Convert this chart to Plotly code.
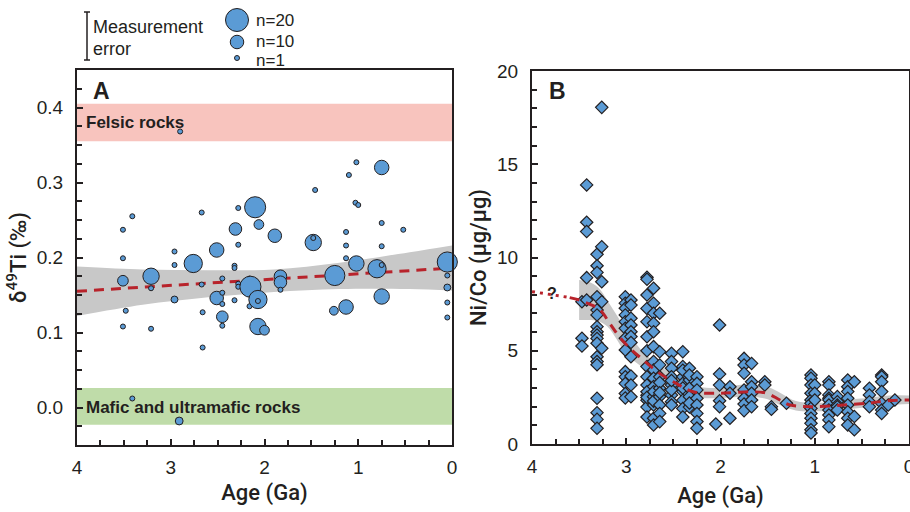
import plotly.graph_objects as go

# ---------------- Panel A data ----------------
a_age = [3.41, 3.51, 3.51, 3.51, 3.48, 3.51, 3.21, 3.21, 3.21, 2.96, 2.96, 2.96,
         2.76, 2.67, 2.67, 2.66, 2.66, 2.51, 2.51, 2.45, 2.45, 2.45, 2.45, 2.45,
         2.31, 2.28, 2.28, 2.32, 2.32, 2.32, 2.28, 2.28, 2.10, 2.06, 2.16, 2.15,
         2.16, 2.07, 2.07, 2.07, 2.00, 2.90, 3.41, 2.91,
         1.89, 1.48, 1.48, 1.46, 1.02, 1.10, 0.75, 1.03, 1.00, 0.75, 0.52, 1.13,
         1.13, 0.75, 1.13, 1.02, 0.80, 0.75, 1.83, 1.83, 1.83, 1.25, 1.26, 1.13,
         0.75, 0.05, 0.05, 0.05, 0.05, 0.05]
a_d49ti = [0.255, 0.237, 0.199, 0.169, 0.129, 0.108, 0.175, 0.159, 0.105, 0.208, 0.190, 0.144,
           0.192, 0.260, 0.164, 0.127, 0.080, 0.210, 0.146, 0.172, 0.153, 0.138, 0.121, 0.109,
           0.238, 0.266, 0.217, 0.189, 0.186, 0.143, 0.165, 0.161, 0.267, 0.244, 0.172, 0.161,
           0.135, 0.144, 0.142, 0.108, 0.103, 0.368, 0.012, -0.018,
           0.229, 0.220, 0.226, 0.290, 0.327, 0.310, 0.320, 0.273, 0.270, 0.246, 0.237, 0.234,
           0.216, 0.215, 0.199, 0.192, 0.185, 0.190, 0.175, 0.167, 0.157, 0.176, 0.129, 0.134,
           0.148, 0.194, 0.176, 0.160, 0.140, 0.120]
a_n = [1, 1, 1, 7, 1, 1, 13, 1, 1, 1, 1, 3,
       15, 1, 1, 1, 1, 11, 10, 1, 1, 1, 8, 1,
       9, 1, 1, 1, 1, 1, 1, 1, 18, 6, 1, 18,
       1, 15, 1, 13, 6, 1, 1, 4,
       10, 13, 1, 1, 1, 1, 11, 1, 1, 1, 1, 1,
       1, 1, 1, 12, 15, 1, 9, 9, 1, 17, 5, 11,
       12, 17, 1, 3, 1, 1]

a_fit_age = [4.0, 0.0]
a_fit_val = [0.155, 0.186]
a_band_age = [4.0, 3.3, 2.6, 1.9, 1.2, 0.45, 0.0]
a_band_hi = [0.188, 0.184, 0.183, 0.184, 0.193, 0.207, 0.216]
a_band_lo = [0.122, 0.137, 0.147, 0.154, 0.158, 0.158, 0.156]

felsic_range = [0.355, 0.405]
mafic_range = [-0.023, 0.026]

legend_n = [20, 10, 1]

# ---------------- Panel B data ----------------
b_age = ([3.47] * 3 + [3.42] * 5 + [3.31] * 18 + [3.26] * 5 + [3.01] * 13 + [2.95] * 11 +
         [2.78] * 16 + [2.71] * 16 + [2.645] * 11 + [2.52] * 10 + [2.40] * 10 + [2.33] * 7 +
         [2.25] * 8 + [2.01] * 5 + [2.05] + [1.90] * 3 + [1.75] * 7 + [1.67] * 6 + [1.53] * 2 +
         [1.46] * 2 + [1.30] + [1.04] * 12 + [1.00] * 3 + [0.85] * 10 + [0.76] * 5 +
         [0.65] * 8 + [0.58] * 3 + [0.42] * 4 + [0.29] * 7 + [0.22] + [0.15])
b_nico = [7.63, 5.67, 5.25,
          13.89, 11.89, 11.39, 8.92, 7.72,
          10.17, 9.56, 9.2, 7.9, 7.18, 6.92, 6.29, 6.02, 5.84, 5.66, 5.4, 4.68, 4.42, 4.25, 2.45, 1.68, 1.32, 0.84,
          18.05, 10.58, 8.7, 7.63, 5.13,
          7.9, 7.55, 7.28, 6.92, 6.56, 6.2, 5.67, 5.04, 3.88, 3.6, 3.24, 2.71, 2.47,
          7.72, 7.45, 6.74, 6.38, 6.02, 5.76, 5.44, 4.68, 3.64, 3.16, 2.53,
          8.94, 8.83, 7.99, 7.27, 6.56, 5.75, 5.0, 4.15, 3.6, 3.16, 2.62, 2.35, 1.98, 1.45, 2.8, 2.5,
          8.35, 7.55, 7.01, 6.47, 6.02, 5.22, 4.42, 3.97, 3.52, 3.08, 2.54, 2.09, 1.38, 1.02, 2.8, 2.3,
          7.01, 4.95, 4.24, 3.6, 2.99, 2.54, 2.09, 1.64, 1.2, 3.3, 2.75,
          4.86, 4.42, 4.06, 3.6, 3.16, 2.62, 2.27, 2.09, 2.9, 3.4,
          4.95, 4.15, 3.6, 3.25, 2.81, 2.35, 1.9, 1.45, 3.95, 3.0,
          4.06, 3.43, 2.99, 2.54, 1.98, 3.7, 2.2,
          3.6, 3.25, 2.9, 2.45, 2.09, 1.64, 1.2, 0.85,
          6.38, 3.75, 3.16, 2.32, 2.0,
          1.07,
          3.07, 2.72, 1.38,
          4.59, 4.23, 3.79, 2.9, 2.45, 2.14, 1.79,
          4.32, 3.34, 3.07, 2.72, 2.36, 2.0,
          3.34, 3.16,
          2.0, 1.86,
          2.18,
          3.7, 3.52, 3.16, 2.72, 2.36, 2.18, 1.91, 1.64, 1.38, 1.11, 0.76, 0.59,
          3.16, 2.72, 2.36,
          3.34, 3.16, 2.63, 2.45, 2.36, 2.09, 1.82, 1.55, 1.29, 0.93,
          2.54, 2.27, 2.09, 2.0, 1.82,
          3.43, 3.07, 2.81, 2.45, 2.09, 1.73, 1.38, 1.02,
          3.34, 1.47, 0.76,
          2.99, 2.63, 2.27, 2.0,
          3.7, 3.6, 3.34, 2.81, 2.18, 1.82, 1.64,
          2.09,
          2.36]

b_fit_age = [3.6, 3.5, 3.39, 3.28, 3.175, 3.076, 2.945, 2.83, 2.65, 2.47, 2.29, 2.01,
             1.69, 1.51, 1.37, 1.26, 1.01, 0.69, 0.41, 0.23, 0.0]
b_fit_val = [7.85, 7.72, 7.5, 7.2, 6.47, 5.77, 5.05, 4.55, 3.8, 3.25, 2.8, 2.72,
             2.8, 2.72, 2.36, 2.09, 2.0, 2.09, 2.2, 2.32, 2.36]
b_extrap_age = [4.0, 3.6]
b_extrap_val = [8.17, 7.85]
b_band_age = [3.5, 3.4, 3.3, 3.2, 3.1, 3.0, 2.85, 2.7, 2.5, 2.3, 2.1, 1.9, 1.7, 1.5,
              1.35, 1.2, 1.0, 0.7, 0.4, 0.2, 0.0]
b_band_hi = [8.8, 8.7, 8.4, 7.7, 6.9, 6.1, 5.1, 4.4, 3.7, 3.15, 3.0, 3.1, 3.2, 3.05,
             2.7, 2.3, 2.2, 2.35, 2.5, 2.6, 2.6]
b_band_lo = [6.65, 6.65, 6.6, 6.3, 5.6, 4.8, 4.2, 3.6, 3.0, 2.55, 2.45, 2.5, 2.55, 2.4,
             2.05, 1.8, 1.75, 1.85, 2.0, 2.1, 2.15]

# ---------------- styles ----------------
W, H = 910, 512
INK = "#231F20"
BLUE = "#5B9BD5"
RED = "#B8232B"
GRAY = "#C8C8C8"
FONT = "Liberation Sans"
TFONT = "Roboto"


def bubble_size(n):
    return 5 + 18 * (n - 1) / 19


def px_x(p):
    return p / W


def px_y(p):
    return 1 - p / H


fig = go.Figure()

# Panel A
fig.add_trace(go.Scatter(x=a_band_age, y=a_band_hi, mode="lines", line=dict(width=0, shape="spline"),
                         hoverinfo="skip", xaxis="x", yaxis="y"))
fig.add_trace(go.Scatter(x=a_band_age, y=a_band_lo, mode="lines", line=dict(width=0, shape="spline"),
                         fill="tonexty", fillcolor=GRAY, hoverinfo="skip", xaxis="x", yaxis="y"))
fig.add_trace(go.Scatter(x=a_fit_age, y=a_fit_val, mode="lines",
                         line=dict(color=RED, width=3, dash="10px,7px"), xaxis="x", yaxis="y"))
fig.add_trace(go.Scatter(x=a_age, y=a_d49ti, mode="markers",
                         marker=dict(size=[bubble_size(n) for n in a_n], color=BLUE, opacity=1,
                                     line=dict(color=INK, width=1)),
                         xaxis="x", yaxis="y", cliponaxis=False))

# Panel B
fig.add_trace(go.Scatter(x=b_band_age, y=b_band_hi, mode="lines", line=dict(width=0, shape="spline"),
                         hoverinfo="skip", xaxis="x2", yaxis="y2"))
fig.add_trace(go.Scatter(x=b_band_age, y=b_band_lo, mode="lines", line=dict(width=0, shape="spline"),
                         fill="tonexty", fillcolor=GRAY, hoverinfo="skip", xaxis="x2", yaxis="y2"))
fig.add_trace(go.Scatter(x=b_age, y=b_nico, mode="markers",
                         marker=dict(symbol="diamond", size=9.5, color=BLUE, opacity=1,
                                     line=dict(color=INK, width=1.2)),
                         xaxis="x2", yaxis="y2"))
fig.add_trace(go.Scatter(x=b_fit_age, y=b_fit_val, mode="lines",
                         line=dict(color=RED, width=3, dash="10px,7px", shape="spline"),
                         xaxis="x2", yaxis="y2"))
fig.add_trace(go.Scatter(x=b_extrap_age, y=b_extrap_val, mode="lines",
                         line=dict(color=RED, width=3, dash="3px,5px"),
                         xaxis="x2", yaxis="y2"))

# Legend overlay (pixel space)
leg_y = [20, 42, 58]
fig.add_trace(go.Scatter(x=[237] * 3, y=leg_y, mode="markers",
                         marker=dict(size=[bubble_size(n) for n in legend_n], color=BLUE, opacity=1,
                                     line=dict(color=INK, width=1)),
                         xaxis="x3", yaxis="y3", cliponaxis=False))

tickfont = dict(family=FONT, size=19, color=INK)
titlefont = dict(family=TFONT, size=22, color=INK, weight=500)

common_axis = dict(showline=True, linecolor=INK, linewidth=2, mirror=True, ticks="inside",
                   ticklen=6, tickwidth=1.5, tickcolor=INK, showgrid=False, zeroline=False,
                   tickfont=tickfont, automargin=False, ticklabeloverflow="allow")

fig.update_layout(
    width=W, height=H, margin=dict(l=0, r=0, t=0, b=0, autoexpand=False),
    paper_bgcolor="white", plot_bgcolor="rgba(0,0,0,0)", showlegend=False,
    xaxis=dict(domain=[px_x(77), px_x(452)], range=[4, 0], anchor="y",
               tickvals=[4, 3, 2, 1, 0], minor=dict(dtick=0.25, ticks="inside", ticklen=5,
                                                   tickcolor=INK, tickwidth=1.5),
               ticklabelstandoff=4,
               title=dict(text="Age (Ga)", font=titlefont, standoff=8), **common_axis),
    yaxis=dict(domain=[px_y(445), px_y(70)], range=[-0.05, 0.45], anchor="x",
               tickvals=[0, 0.1, 0.2, 0.3, 0.4], tickformat=".1f",
               minor=dict(dtick=0.025, tick0=0, ticks="inside", ticklen=5, tickcolor=INK, tickwidth=1.5),
               ticklabelstandoff=8,
               title=dict(text="δ<sup>49</sup>Ti (‰)", font=titlefont, standoff=4), **common_axis),
    xaxis2=dict(domain=[px_x(532), px_x(909)], range=[4, 0], anchor="y2",
                tickvals=[4, 3, 2, 1, 0], minor=dict(dtick=0.25, ticks="inside", ticklen=5,
                                                    tickcolor=INK, tickwidth=1.5),
                ticklabelstandoff=4,
                title=dict(text="Age (Ga)", font=titlefont, standoff=12), **common_axis),
    yaxis2=dict(domain=[px_y(444), px_y(71)], range=[0, 20], anchor="x2",
                tickvals=[0, 5, 10, 15, 20],
                minor=dict(dtick=1, ticks="inside", ticklen=5, tickcolor=INK, tickwidth=1.5),
                ticklabelstandoff=8,
                title=dict(text="Ni/Co (μg/μg)", font=titlefont, standoff=4), **common_axis),
    xaxis3=dict(domain=[0, 1], range=[0, W], visible=False, anchor="y3", fixedrange=True),
    yaxis3=dict(domain=[0, 1], range=[H, 0], visible=False, anchor="x3", fixedrange=True),
)

shapes = [
    dict(type="rect", xref="x", yref="y", x0=4, x1=0, y0=felsic_range[0], y1=felsic_range[1],
         fillcolor="#F8C4BE", line=dict(width=0), layer="below"),
    dict(type="rect", xref="x", yref="y", x0=4, x1=0, y0=mafic_range[0], y1=mafic_range[1],
         fillcolor="#BFDCA9", line=dict(width=0), layer="below"),
    # measurement error bar (legend)
    dict(type="line", xref="x3", yref="y3", x0=87, x1=87, y0=12, y1=60, line=dict(color=INK, width=1.5)),
    dict(type="line", xref="x3", yref="y3", x0=84, x1=90, y0=12, y1=12, line=dict(color=INK, width=1.5)),
    dict(type="line", xref="x3", yref="y3", x0=84, x1=90, y0=60, y1=60, line=dict(color=INK, width=1.5)),
]
fig.update_layout(shapes=shapes)

legfont = dict(family=FONT, size=18, color=INK)
bandfont = dict(family=FONT, size=17, color=INK)
ann = [
    dict(xref="x3", yref="y3", x=91, y=27, text="Measurement", showarrow=False, xanchor="left",
         yanchor="middle", font=legfont),
    dict(xref="x3", yref="y3", x=91, y=49, text="error", showarrow=False, xanchor="left",
         yanchor="middle", font=legfont),
    dict(xref="x3", yref="y3", x=91, y=91, text="<b>A</b>", showarrow=False, xanchor="left",
         yanchor="middle", font=dict(family=FONT, size=23, color=INK)),
    dict(xref="x3", yref="y3", x=547, y=91, text="<b>B</b>", showarrow=False, xanchor="left",
         yanchor="middle", font=dict(family=FONT, size=23, color=INK)),
    dict(xref="x", yref="y", x=3.93, y=sum(felsic_range) / 2, text="<b>Felsic rocks</b>",
         showarrow=False, xanchor="left", yanchor="middle", font=bandfont),
    dict(xref="x", yref="y", x=3.93, y=sum(mafic_range) / 2 - 0.002, text="<b>Mafic and ultramafic rocks</b>",
         showarrow=False, xanchor="left", yanchor="middle", font=bandfont),
    dict(xref="x2", yref="y2", x=3.79, y=8.05, text="<b>?</b>", showarrow=False,
         font=dict(family=FONT, size=16, color=INK)),
]
leg_text_y = [20, 41, 60]
for n, yy in zip(legend_n, leg_text_y):
    ann.append(dict(xref="x3", yref="y3", x=254, y=yy, text=f"n={n}", showarrow=False,
                    xanchor="left", yanchor="middle", font=dict(family=FONT, size=17, color=INK)))
fig.update_layout(annotations=ann)

fig.write_html("out.html", config={"displayModeBar": False},
               post_script="document.body.style.margin='0';")
